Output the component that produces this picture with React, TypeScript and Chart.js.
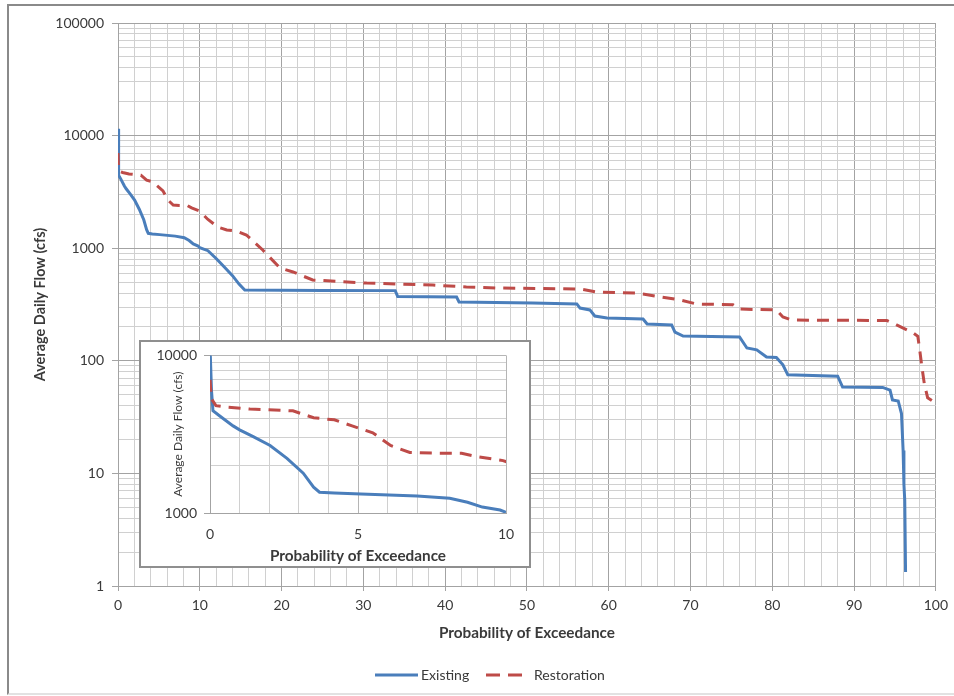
import React, { useEffect, useRef } from 'react';
import { Chart, registerables } from 'chart.js';

Chart.register(...registerables);

// ---- Data ----
const existingProb = [
  0, 0.05, 0.1, 0.33, 0.78, 1.0, 1.46, 2.03, 2.6, 3.15,
  3.5, 3.7, 4.2, 5.1, 7.0, 8.1, 8.7, 9.2, 9.8, 10.0,
  11.0, 12.0, 13.0, 14.0, 14.8, 15.5, 20, 25, 33.9, 34.2,
  41.4, 41.7, 50.7, 56.1, 56.5, 57.7, 58.3, 59.8, 64.2, 64.7,
  67.7, 68.1, 69.1, 76.0, 76.9, 78.1, 79.3, 80.5, 81.3, 81.9,
  88.0, 88.6, 93.5, 94.4, 94.7, 95.4, 95.8, 96.0, 96.1, 96.2,
  96.3,
];
const existingFlow = [
  11500, 6000, 4450, 4130, 3570, 3370, 3050, 2680, 2220, 1790,
  1460, 1355, 1340, 1320, 1280, 1240, 1170, 1090, 1045, 1010,
  950, 810, 680, 570, 480, 425, 423, 422, 420, 372,
  368, 333, 326, 320, 294, 283, 250, 240, 235, 212,
  208, 180, 166, 163, 130, 125, 108, 107, 92, 75,
  73, 58.5, 58, 55, 45, 44, 34, 16, 8, 5.8,
  1.33,
];
const restorationProb = [
  0, 0.05, 0.2, 0.56, 1.35, 2.8, 3.5, 4.2, 4.8, 5.5,
  6.1, 6.75, 7.5, 8.5, 9.0, 9.9, 11.0, 12.2, 13.3, 14.5,
  15.7, 17.7, 19.8, 21.4, 23.8, 30.4, 38.5, 42.6, 46.3, 56.5,
  58.5, 63.4, 68.7, 70.8, 75.2, 76.0, 80.5, 81.3, 82.4, 94.0,
  95.2, 97.2, 97.8, 98.0, 98.3, 98.6, 99.0, 99.8,
];
const restorationFlow = [
  7000, 5300, 4800, 4700, 4570, 4450, 4020, 3900, 3570, 3230,
  2680, 2420, 2400, 2390, 2280, 2150, 1800, 1540, 1450, 1420,
  1310, 964, 667, 615, 522, 490, 471, 452, 443, 434,
  408, 400, 347, 319, 315, 288, 283, 245, 230, 228,
  208, 177, 165, 130, 88, 62, 47, 43,
];

const mainXTickLabels = [0, 10, 20, 30, 40, 50, 60, 70, 80, 90, 100];
const mainYTickLabels = [1, 10, 100, 1000, 10000, 100000];
const insetXTickLabels = [0, 5, 10];
const insetYTickLabels = [1000, 10000];

const seriesNames = ['Existing', 'Restoration'];
const xTitle = 'Probability of Exceedance';
const yTitle = 'Average Daily Flow (cfs)';

// ---- Styles ----
const FONT = 'Lato, "Liberation Sans", sans-serif';
const TEXT = '#3a3a3a';
const MAJOR = '#a3a3a3';
const MINOR = '#d0d0d0';
const BLUE = '#4a7ebb';
const RED = '#be4b48';
const DASH = [12, 8];

const toPoints = (xs: number[], ys: number[]) => xs.map((x, i) => ({ x, y: ys[i] }));

function logTicks(min: number, max: number) {
  const out: { value: number }[] = [];
  let dec = min;
  while (dec < max - 1e-9) {
    for (let m = 1; m < 10; m++) out.push({ value: m * dec });
    dec *= 10;
  }
  out.push({ value: max });
  return out;
}
const isIn = (arr: number[], v: number) => arr.some((a) => Math.abs(a - v) < 1e-6);

function makeDatasets() {
  return [
    {
      label: seriesNames[0],
      data: toPoints(existingProb, existingFlow),
      borderColor: BLUE,
      backgroundColor: BLUE,
      borderWidth: 3,
      pointRadius: 0,
      tension: 0,
      fill: false,
      order: 1,
    },
    {
      label: seriesNames[1],
      data: toPoints(restorationProb, restorationFlow),
      borderColor: RED,
      backgroundColor: RED,
      borderWidth: 3,
      borderDash: DASH,
      pointRadius: 0,
      tension: 0,
      fill: false,
      order: 0,
    },
  ];
}

const legendPlugin = {
  id: 'customLegend',
  afterDraw(chart: any) {
    const ctx = chart.ctx;
    const y = 675;
    ctx.save();
    ctx.lineWidth = 3;
    ctx.strokeStyle = BLUE;
    ctx.setLineDash([]);
    ctx.beginPath();
    ctx.moveTo(375, y);
    ctx.lineTo(418, y);
    ctx.stroke();
    ctx.strokeStyle = RED;
    ctx.setLineDash([14, 8]);
    ctx.beginPath();
    ctx.moveTo(486, y);
    ctx.lineTo(522, y);
    ctx.stroke();
    ctx.setLineDash([]);
    ctx.fillStyle = TEXT;
    ctx.font = `14px ${FONT}`;
    ctx.textBaseline = 'middle';
    ctx.textAlign = 'left';
    ctx.fillText(seriesNames[0], 421, y);
    ctx.fillText(seriesNames[1], 534, y);
    ctx.restore();
  },
};

function MainChart() {
  const ref = useRef<HTMLCanvasElement | null>(null);
  useEffect(() => {
    if (!ref.current) return;
    const chart = new Chart(ref.current, {
      type: 'line',
      data: { datasets: makeDatasets() as any },
      options: {
        animation: false,
        responsive: false,
        maintainAspectRatio: false,
        events: [],
        layout: { padding: { top: 23, right: 18, left: 0, bottom: 0 } },
        plugins: { legend: { display: false }, tooltip: { enabled: false } },
        scales: {
          x: {
            type: 'linear',
            min: 0,
            max: 100,
            afterBuildTicks: (s: any) => {
              s.ticks = Array.from({ length: 51 }, (_, i) => ({ value: i * 2 }));
            },
            afterFit: (s: any) => {
              s.height = 110;
            },
            ticks: {
              autoSkip: false,
              maxRotation: 0,
              minRotation: 0,
              padding: 6,
              color: TEXT,
              font: { family: FONT, size: 14 },
              callback: (v: any) => (isIn(mainXTickLabels, Number(v)) ? String(v) : ''),
            },
            grid: {
              color: (c: any) => (c.tick && c.tick.value % 10 === 0 ? MAJOR : MINOR),
              tickColor: (c: any) => (c.tick && c.tick.value % 10 === 0 ? MAJOR : 'rgba(0,0,0,0)'),
              tickLength: 5,
              lineWidth: 1,
            },
            border: { color: MAJOR },
            title: {
              display: true,
              text: xTitle,
              color: TEXT,
              font: { family: FONT, size: 15.3, weight: 'bold' },
              padding: { top: 0, bottom: 53.8 },
            },
          },
          y: {
            type: 'logarithmic',
            min: 1,
            max: 100000,
            afterBuildTicks: (s: any) => {
              s.ticks = logTicks(1, 100000);
            },
            afterFit: (s: any) => {
              s.width = 118;
            },
            ticks: {
              autoSkip: false,
              padding: 8,
              color: TEXT,
              font: { family: FONT, size: 14 },
              callback: (v: any) => (isIn(mainYTickLabels, Number(v)) ? String(Math.round(Number(v))) : ''),
            },
            grid: {
              color: (c: any) => (c.tick && isIn(mainYTickLabels, c.tick.value) ? MAJOR : MINOR),
              tickColor: (c: any) => (c.tick && isIn(mainYTickLabels, c.tick.value) ? MAJOR : 'rgba(0,0,0,0)'),
              tickLength: 6,
              lineWidth: 1,
            },
            border: { color: MAJOR },
            title: {
              display: true,
              text: yTitle,
              color: TEXT,
              font: { family: FONT, size: 14.5, weight: 'bold' },
              padding: { top: 31.3, bottom: 0 },
            },
          },
        },
      } as any,
      plugins: [legendPlugin],
    });
    return () => chart.destroy();
  }, []);
  return (
    <canvas
      ref={ref}
      width={954}
      height={696}
      style={{ position: 'absolute', left: 0, top: 0, width: 954, height: 696 }}
    />
  );
}

function InsetChart() {
  const ref = useRef<HTMLCanvasElement | null>(null);
  useEffect(() => {
    if (!ref.current) return;
    const chart = new Chart(ref.current, {
      type: 'line',
      data: { datasets: makeDatasets() as any },
      options: {
        animation: false,
        responsive: false,
        maintainAspectRatio: false,
        events: [],
        layout: { padding: { top: 14, right: 25, left: 0, bottom: 0 } },
        plugins: { legend: { display: false }, tooltip: { enabled: false } },
        scales: {
          x: {
            type: 'linear',
            min: 0,
            max: 10,
            afterBuildTicks: (s: any) => {
              s.ticks = Array.from({ length: 11 }, (_, i) => ({ value: i }));
            },
            afterFit: (s: any) => {
              s.height = 55;
            },
            ticks: {
              autoSkip: false,
              maxRotation: 0,
              minRotation: 0,
              padding: 8,
              color: TEXT,
              font: { family: FONT, size: 14 },
              callback: (v: any) => (isIn(insetXTickLabels, Number(v)) ? String(v) : ''),
            },
            grid: {
              color: (c: any) => (c.tick && c.tick.value % 5 === 0 ? '#b5b5b5' : MINOR),
              tickColor: 'rgba(0,0,0,0)',
              tickLength: 5,
              lineWidth: 1,
            },
            border: { color: MAJOR },
            title: {
              display: true,
              text: xTitle,
              color: TEXT,
              font: { family: FONT, size: 15.3, weight: 'bold' },
              padding: { top: 0, bottom: 2.8 },
            },
          },
          y: {
            type: 'logarithmic',
            min: 1000,
            max: 10000,
            afterBuildTicks: (s: any) => {
              s.ticks = logTicks(1000, 10000);
            },
            afterFit: (s: any) => {
              s.width = 71;
            },
            ticks: {
              autoSkip: false,
              padding: 7,
              color: TEXT,
              font: { family: FONT, size: 14 },
              callback: (v: any) => (isIn(insetYTickLabels, Number(v)) ? String(Math.round(Number(v))) : ''),
            },
            grid: {
              color: (c: any) => (c.tick && isIn(insetYTickLabels, c.tick.value) ? '#b5b5b5' : MINOR),
              tickColor: (c: any) => (c.tick && isIn(insetYTickLabels, c.tick.value) ? MAJOR : 'rgba(0,0,0,0)'),
              tickLength: 6,
              lineWidth: 1,
            },
            border: { color: MAJOR },
            title: {
              display: true,
              text: yTitle,
              color: TEXT,
              font: { family: FONT, size: 12 },
              padding: { top: 31.8, bottom: 0 },
            },
          },
        },
      } as any,
    });
    return () => chart.destroy();
  }, []);
  return (
    <div
      style={{
        position: 'absolute',
        left: 139,
        top: 340,
        width: 392,
        height: 228,
        background: '#fff',
        boxShadow: 'inset 0 0 0 2px #8f8f8f',
      }}
    >
      <canvas
        ref={ref}
        width={392}
        height={228}
        style={{ position: 'absolute', left: 0, top: 0, width: 392, height: 228 }}
      />
    </div>
  );
}

export default function App() {
  return (
    <div
      style={{
        position: 'absolute',
        left: 0,
        top: 0,
        width: 954,
        height: 696,
        overflow: 'hidden',
        background: '#fff',
      }}
    >
      <div
        style={{
          position: 'absolute',
          left: 7,
          top: 4,
          width: 1000,
          height: 687,
          borderLeft: '2px solid #8a8a8a',
          borderTop: '2px solid #8a8a8a',
          borderBottom: '2px solid #e2e2e2',
        }}
      />
      <MainChart />
      <InsetChart />
    </div>
  );
}
